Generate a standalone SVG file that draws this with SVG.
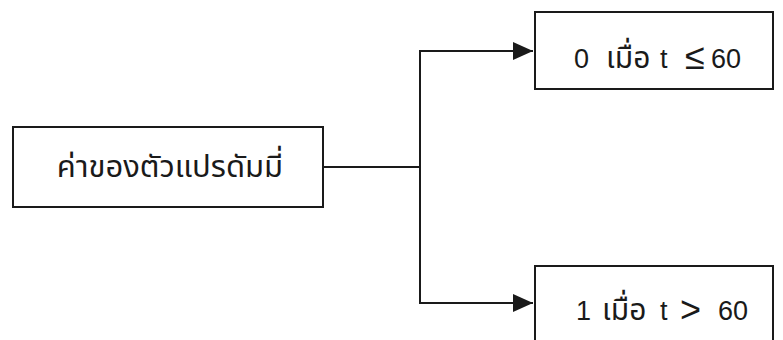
<svg xmlns="http://www.w3.org/2000/svg" width="783" height="340" viewBox="0 0 783 340">
<style>
.box{fill:#fff;stroke:#1a1a1a;stroke-width:2}
.ln{fill:none;stroke:#1a1a1a;stroke-width:2}
.t{font-family:"Liberation Sans","Noto Sans Thai","Noto Sans",sans-serif;fill:#1a1a1a}
.th{font-size:30px}
.sym{font-size:36px}
</style>
<defs>
<marker id="ah" markerWidth="20" markerHeight="18" refX="20" refY="9" orient="auto" markerUnits="userSpaceOnUse">
<path d="M0,0 L20,9 L0,18 Z" fill="#1a1a1a"/>
</marker>
</defs>
<rect width="783" height="340" fill="#fff"/>
<g id="connectors">
<path class="ln" d="M323,167 H420"/>
<path class="ln" d="M420,303 V51 H533" marker-end="url(#ah)"/>
<path class="ln" d="M420,167 V303 H533" marker-end="url(#ah)"/>
</g>
<g id="dummy">
<rect class="box" x="13" y="127" width="310" height="80"/>
<text class="t" x="170" y="177" font-size="31" text-anchor="middle">ค่าของตัวแปรดัมมี่</text>
</g>
<g id="case0">
<rect class="box" x="535" y="12" width="238" height="77"/>
<text class="t" y="68" font-size="27"><tspan x="574">0</tspan><tspan x="606" class="th">เมื่อ</tspan><tspan x="660">t</tspan><tspan x="685" class="sym" y="69">≤</tspan><tspan x="711" y="68">60</tspan></text>
</g>
<g id="case1">
<rect class="box" x="535" y="266" width="238" height="90"/>
<text class="t" y="320" font-size="27"><tspan x="576">1</tspan><tspan x="602" class="th">เมื่อ</tspan><tspan x="660">t</tspan><tspan x="680" class="sym" y="322">&gt;</tspan><tspan x="718" y="320">60</tspan></text>
</g>
</svg>
